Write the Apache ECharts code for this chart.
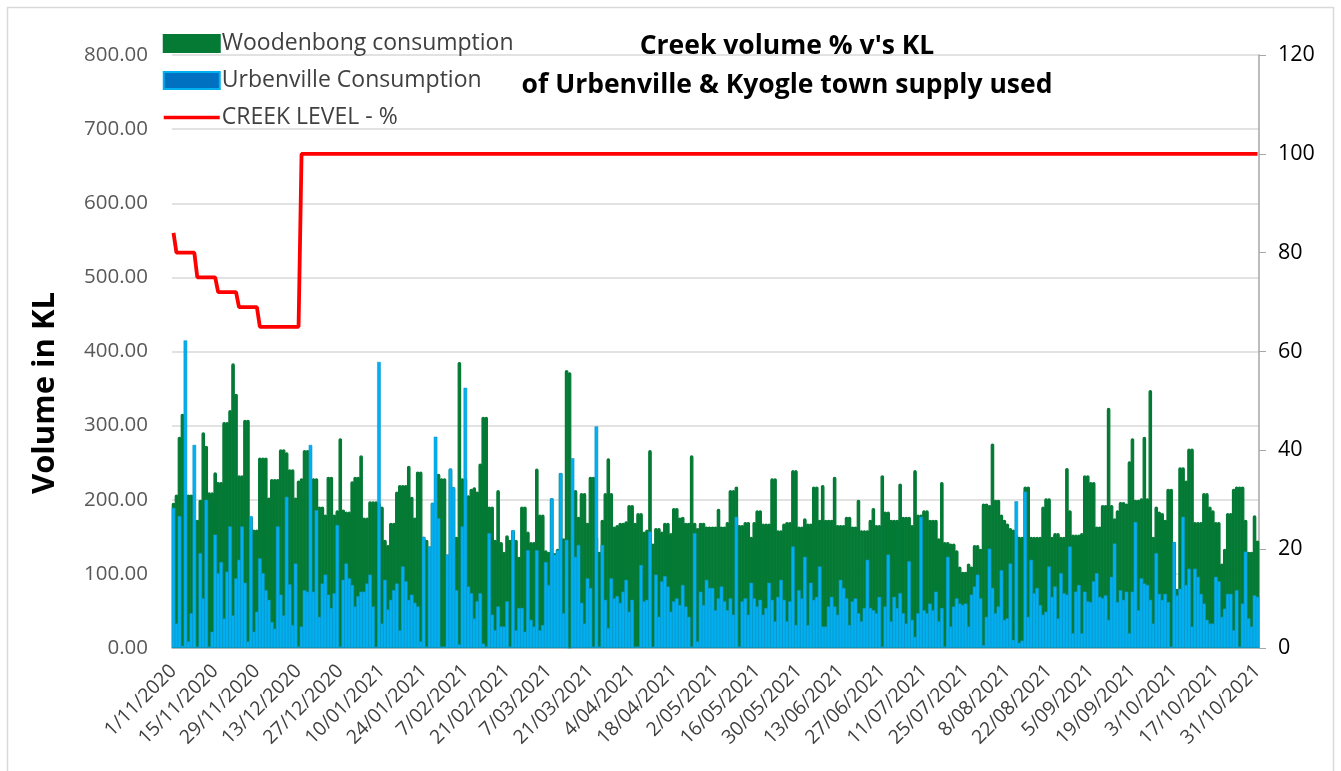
<!DOCTYPE html>
<html>
<head>
<meta charset="utf-8">
<script src="https://cdn.jsdelivr.net/npm/echarts@6/dist/echarts.min.js"></script>
<style>
html,body{margin:0;padding:0;background:#fff;}
#chart{width:1341px;height:771px;}
</style>
</head>
<body>
<div id="chart"></div>
<script>
// Categories: one per day, 1/11/2020 .. 31/10/2021
const startDate = [2020, 10, 1];
const dayCount = 365;
const categories = [];
for (let i = 0; i < dayCount; i++) {
  const dt = new Date(startDate[0], startDate[1], startDate[2] + i);
  const mm = String(dt.getMonth() + 1).padStart(2, '0');
  categories.push(dt.getDate() + '/' + mm + '/' + dt.getFullYear());
}

const woodenbong = [
196,207,285,316,207,207,207,173,173,200,
291,273,210,210,237,224,224,305,305,321,
384,343,233,233,308,308,177,160,160,257,
257,257,203,228,228,228,268,268,264,241,
241,203,226,229,267,267,210,229,229,191,
191,180,231,231,180,186,283,187,184,184,
225,231,231,260,176,176,198,198,198,196,
191,146,139,169,169,211,220,220,220,246,
204,176,238,238,150,146,137,196,196,235,
229,229,126,242,217,150,386,229,229,206,
215,217,211,249,312,312,191,191,146,213,
143,130,152,146,159,146,123,191,191,157,
143,143,242,180,180,132,130,202,128,134,
236,148,375,372,213,213,177,209,209,169,
231,231,150,130,173,209,256,209,164,166,
169,169,171,193,193,169,182,182,157,160,
267,141,162,162,157,169,169,155,189,189,
176,177,169,169,260,169,162,169,169,164,
164,164,164,188,164,164,170,213,213,218,
166,166,170,170,150,170,186,186,168,168,
168,229,229,159,159,168,170,170,240,240,
164,164,175,168,168,218,218,173,220,173,
173,173,231,166,166,166,177,177,164,164,
200,159,159,159,173,189,166,166,233,184,
184,173,173,173,222,177,177,177,166,240,
180,180,186,186,173,173,173,148,224,143,
143,141,141,132,110,103,103,114,110,139,
139,134,195,195,193,276,200,200,180,173,
168,162,160,153,150,150,218,218,150,150,
150,150,191,202,202,150,155,155,150,150,
243,186,153,153,153,155,233,233,224,224,
164,164,193,193,324,193,175,186,197,197,
195,252,283,200,200,202,285,202,348,150,
191,184,182,173,215,215,143,80,244,244,
226,269,269,170,170,170,209,209,191,186,
170,170,114,134,182,182,215,218,218,218,
173,130,130,179,145
];

const urbenville = [
189,33,178,3,415,9,47,274,2,128,
67,200,2,22,153,101,116,40,103,164,
44,94,119,164,88,9,178,22,49,121,
101,78,65,35,26,164,72,44,204,86,
31,114,2,29,78,76,274,76,186,42,
87,99,72,54,74,166,2,92,114,94,
85,56,70,76,76,87,99,56,2,386,
33,92,52,65,78,87,24,110,90,65,
72,61,56,9,150,2,137,196,285,175,
2,2,126,242,217,78,5,164,351,83,
74,40,63,74,6,2,155,45,24,56,
29,29,63,2,159,24,54,54,22,132,
38,29,132,24,31,116,85,202,126,132,
236,47,146,0,256,123,139,61,33,94,
81,2,299,2,139,65,27,94,67,70,
61,76,92,49,65,2,2,112,63,65,
157,2,99,42,90,97,83,49,63,67,
58,85,56,42,2,155,9,76,58,92,
81,81,51,67,83,63,51,67,45,177,
2,63,67,45,88,67,56,65,45,54,
88,65,36,69,92,65,36,63,137,31,
78,67,123,31,88,65,69,110,29,29,
56,69,56,45,92,81,67,31,63,67,
47,36,54,119,54,51,47,69,2,56,
126,36,69,54,74,47,33,117,38,15,
47,177,51,47,60,51,76,36,54,2,
123,29,56,67,60,58,60,29,72,83,
99,67,4,42,134,81,47,56,105,38,
40,114,11,198,7,10,211,42,119,74,
81,58,45,49,110,69,83,40,101,74,
72,137,20,76,85,20,76,63,62,90,
101,69,67,71,38,96,141,62,78,65,
76,20,76,170,51,94,87,85,65,33,
128,73,65,73,62,2,143,71,80,177,
85,107,29,107,96,73,60,38,33,33,
96,90,42,53,73,73,24,78,2,60,
130,40,29,71,69
];

// Creek level readings (date, %)
const creekDates = ['1/11/2020','2/11/2020','8/11/2020','9/11/2020','15/11/2020','16/11/2020','22/11/2020','23/11/2020','29/11/2020','30/11/2020','13/12/2020','14/12/2020','31/10/2021'];
const creekLevel = [84,80,80,75,75,72,72,69,69,65,65,100,100];

const leftTicks = [0, 800, 100];
const rightTicks = [0, 120, 20];

const chart = echarts.init(document.getElementById('chart'), null, {renderer: 'canvas'});
const FONT = 'Open Sans';

chart.setOption({
  backgroundColor: '#ffffff',
  animation: false,
  textStyle: {fontFamily: FONT},
  grid: {left: 172, right: 82, top: 55, bottom: 123, containLabel: false},
  legend: {
    orient: 'vertical', left: 157, top: 27,
    itemWidth: 56, itemHeight: 17, itemGap: 14,
    textStyle: {fontSize: 23, color: '#404040', fontFamily: FONT, padding: [0,0,0,-3]},
    data: [
      {name: 'Woodenbong consumption', icon: 'rect'},
      {name: 'Urbenville Consumption', icon: 'rect', itemStyle: {color: '#0070C0', borderColor: '#00B0F0', borderWidth: 2}},
      {name: 'CREEK LEVEL - %', itemStyle: {color: 'rgba(0,0,0,0)', borderWidth: 0, opacity: 0}, lineStyle: {width: 3.5, color: '#FF0000'}}
    ]
  },
  graphic: [
    {type: 'rect', left: 5, top: 5, shape: {width: 1326, height: 775}, style: {fill: 'none', stroke: '#D9D9D9', lineWidth: 1.5}, silent: true},
    {type: 'text', x: 787, y: 46, style: {text: "Creek volume % v's KL", font: 'bold 26.5px "' + FONT + '"', fill: '#000', align: 'center', verticalAlign: 'middle'}},
    {type: 'text', x: 787, y: 85, style: {text: 'of Urbenville & Kyogle town supply used', font: 'bold 26.5px "' + FONT + '"', fill: '#000', align: 'center', verticalAlign: 'middle'}},
    {type: 'text', x: 45, y: 393, rotation: Math.PI / 2, style: {text: 'Volume in KL', font: 'bold 31px "' + FONT + '"', fill: '#000', align: 'center', verticalAlign: 'middle'}}
  ],
  xAxis: {
    type: 'category', data: categories, boundaryGap: true,
    axisLine: {show: true, lineStyle: {color: '#BFBFBF', width: 1}},
    axisTick: {show: false},
    axisLabel: {interval: 13, rotate: 45, fontSize: 19.5, color: '#404040', margin: 20, fontFamily: FONT},
    splitLine: {show: false}
  },
  yAxis: [
    {
      type: 'value', min: leftTicks[0], max: leftTicks[1], interval: leftTicks[2],
      axisLine: {show: false}, axisTick: {show: false},
      axisLabel: {formatter: v => v.toFixed(2), fontSize: 20.5, color: '#595959', margin: 24, fontFamily: FONT},
      splitLine: {show: true, lineStyle: {color: '#D9D9D9', width: 1.5}}
    },
    {
      type: 'value', position: 'right', min: rightTicks[0], max: rightTicks[1], interval: rightTicks[2],
      axisLine: {show: true, lineStyle: {color: '#A6A6A6', width: 1.5}},
      axisTick: {show: true, inside: false, length: 7, lineStyle: {color: '#A6A6A6'}},
      axisLabel: {fontSize: 21.5, color: '#000', margin: 19, fontFamily: FONT},
      splitLine: {show: false}
    }
  ],
  series: [
    {
      name: 'Woodenbong consumption', type: 'bar', data: woodenbong, yAxisIndex: 0,
      barGap: '-100%', barWidth: 3.6, large: false,
      itemStyle: {color: '#047A35', borderColor: '#047A35', borderWidth: 1.2, borderRadius: [2,2,0,0]},
      z: 2
    },
    {
      name: 'Urbenville Consumption', type: 'bar', data: urbenville, yAxisIndex: 0,
      barGap: '-100%', barWidth: 3.6, large: false,
      itemStyle: {color: '#00B0F0', borderColor: '#1391C4', borderWidth: 0.5},
      z: 3
    },
    {
      name: 'CREEK LEVEL - %', type: 'line', yAxisIndex: 1,
      data: creekDates.map((d, i) => [d, creekLevel[i]]),
      symbol: 'none', showSymbol: false,
      lineStyle: {color: '#FF0000', width: 3.8},
      itemStyle: {color: '#FF0000'},
      z: 5
    }
  ]
});
</script>
</body>
</html>
